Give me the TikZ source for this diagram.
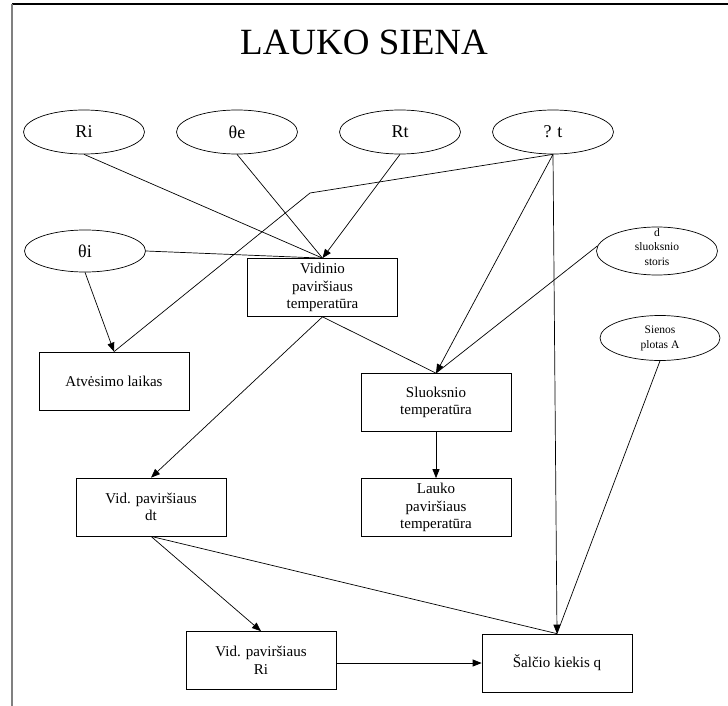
\documentclass[tikz,border=0pt]{standalone}
\usepackage{fontspec}
\setmainfont{Liberation Serif}
\usetikzlibrary{shapes.geometric,arrows.meta}
\tikzset{
  boxnode/.style={draw, line width=0.7pt, minimum width=150pt, minimum height=58pt, inner sep=0pt, align=center, font=\fontsize{15}{17.5}\selectfont},
  ellnode/.style={draw, ellipse, line width=0.7pt, minimum width=121pt, minimum height=44pt, inner sep=0pt, align=center, font=\fontsize{18}{20}\selectfont},
  smallell/.style={ellnode, font=\fontsize{11.5}{15}\selectfont},
  conn/.style={line width=0.7pt},
  arr/.style={conn, -{Triangle[length=9pt,width=7pt]}}
}
\begin{document}
\begin{tikzpicture}[x=1pt,y=-1pt]
\useasboundingbox (0,0) rectangle (728,706);
\draw[line width=1.3pt] (12,4) -- (728,4);
\draw[gray, line width=1.5pt] (12,4) -- (12,706);
\node (title) at (364,42) {\fontsize{37}{40}\selectfont LAUKO SIENA};
% ellipses
\node[ellnode] (ri) at (84,132) {Ri};
\node[ellnode] (te) at (237,132) {θe};
\node[ellnode] (rt) at (400,132) {Rt};
\node[ellnode] (qt) at (553,132) {? t};
\node[ellnode, minimum height=42pt] (ti) at (85,251) {θi};
\node[smallell, minimum height=48pt] (d) at (657,251) {};
\node[smallell, draw=none, align=center] (dtext) at (657,247) {d\\[-1pt]sluoksnio\\storis};
\node[smallell, minimum height=45pt, minimum width=120pt] (sp) at (660,338) {Sienos\\plotas A};
% boxes
\node[boxnode] (vid) at (322.5,287.5) {Vidinio\\paviršiaus\\temperatūra};
\node[boxnode] (atv) at (114,381) {Atvėsimo laikas};
\node[boxnode] (sl) at (436,402.5) {Sluoksnio\\temperatūra};
\node[boxnode] (vdt) at (151,507) {Vid. paviršiaus\\dt};
\node[boxnode] (lk) at (436,507.5) {Lauko\\paviršiaus\\temperatūra};
\node[boxnode] (vri) at (261,660.5) {Vid. paviršiaus\\Ri};
\node[boxnode] (sal) at (557,663) {Šalčio kiekis q};
\coordinate (bend) at (310,193);
% connectors
\draw[conn] (ri.south) -- (vid.north);
\draw[conn] (te.south) -- (vid.north);
\draw[arr] (rt.south) -- (vid.north);
\draw[conn] (ti.east) -- (vid.north);
\draw[arr] (ti.south) -- (atv.north);
\draw[conn] (qt.south) -- (bend) -- (atv.north);
\draw[arr] (qt.south) -- (sl.north);
\draw[arr] (qt.south) -- (sal.north);
\draw[conn] (d.175) -- (sl.north);
\draw[conn] (vid.south) -- (sl.north);
\draw[arr] (vid.south) -- (vdt.north);
\draw[arr] (sl.south) -- (lk.north);
\draw[conn] (sp.south) -- (sal.north);
\draw[arr] (vdt.south) -- (vri.north);
\draw[conn] (vdt.south) -- (sal.north);
\draw[arr] (vri.east |- sal.west) -- (sal.west);
\end{tikzpicture}
\end{document}
